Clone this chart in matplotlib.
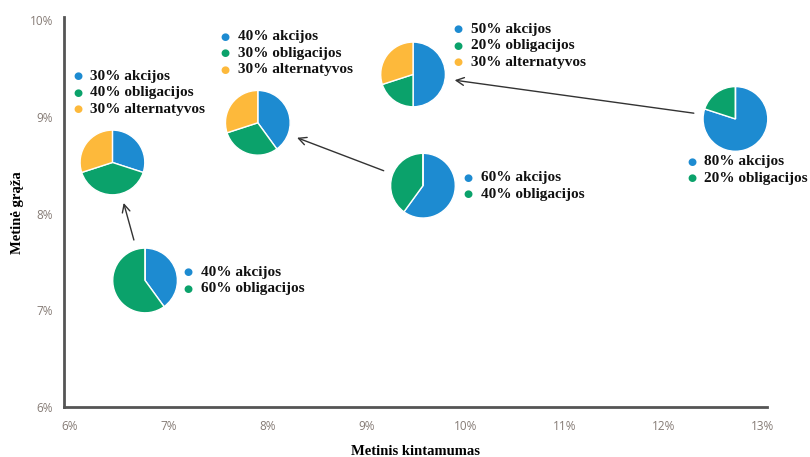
import matplotlib.pyplot as plt
from matplotlib.ticker import FuncFormatter

# portfeliai: metinis kintamumas (%), metinė grąža (%) ir sudėtis (%)
kintamumas = [6.76, 6.43, 7.90, 9.47, 9.57, 12.73]
graza = [7.31, 8.53, 8.94, 9.44, 8.29, 8.98]
akcijos = [40, 30, 40, 50, 60, 80]
obligacijos = [60, 40, 30, 20, 40, 20]
alternatyvos = [0, 30, 30, 30, 0, 0]
pavadinimai = ['akcijos', 'obligacijos', 'alternatyvos']
spalvos = ['#1d8bd1', '#0ba26b', '#fdb93b']

# rodyklės: (nuo portfelio, iki portfelio)
rodykles = [(0, 1), (4, 2), (5, 3)]

# užrašų vieta pikseliais nuo skritulio centro (taškas, pirma eilutė)
uzrasu_vieta = [(43, 8), (-35, 86), (-33, 86), (45, 45), (45, 8), (-44, -43)]

DPI = 100
px = 72 / DPI  # pikseliai -> taškai

fig = plt.figure(figsize=(8.10, 4.57), dpi=DPI)
ax = fig.add_axes([0.079, 0.109, 0.868, 0.853])
ax.set_xlim(5.94, 13.05)
ax.set_ylim(6.0, 10.03)

ax.set_xticks(range(6, 14))
ax.set_yticks(range(6, 11))
fmt = FuncFormatter(lambda v, p: '%d%%' % v)
ax.xaxis.set_major_formatter(fmt)
ax.yaxis.set_major_formatter(fmt)
ax.tick_params(length=0, labelsize=8.5, labelcolor='#857b75')
ax.tick_params(axis='x', pad=9)
ax.tick_params(axis='y', pad=8)
for l in ax.get_xticklabels() + ax.get_yticklabels():
    l.set_family('Open Sans')

for s in ['top', 'right']:
    ax.spines[s].set_visible(False)
for s in ['left', 'bottom']:
    ax.spines[s].set_color('#555555')
    ax.spines[s].set_linewidth(2)

ax.set_xlabel('Metinis kintamumas', family='Liberation Serif', weight='bold',
              fontsize=10.5, labelpad=9)
ax.set_ylabel('Metinė grąža', family='Liberation Serif', weight='bold',
              fontsize=10.5, labelpad=4)

# skrituliai atskirose ašyse
fig.canvas.draw()
sx = ax.transData.transform((1, 0))[0] - ax.transData.transform((0, 0))[0]
sy = ax.transData.transform((0, 1))[1] - ax.transData.transform((0, 0))[1]
r = 33
for i in range(len(kintamumas)):
    w = 2 * r / sx
    h = 2 * r / sy
    ins = ax.inset_axes([kintamumas[i] - w / 2, graza[i] - h / 2, w, h],
                        transform=ax.transData)
    dalys = [akcijos[i], obligacijos[i], alternatyvos[i]]
    ins.pie(dalys, colors=spalvos, startangle=90, counterclock=False,
            wedgeprops=dict(edgecolor='white', linewidth=1))
    ins.set_xlim(-1.02, 1.02)
    ins.set_ylim(-1.02, 1.02)
    ins.set_aspect('equal')
    ins.axis('off')

    # užrašai šalia skritulio
    dx, dy = uzrasu_vieta[i]
    eil = 0
    for d, pav, sp in zip(dalys, pavadinimai, spalvos):
        if d == 0:
            continue
        yy = (dy - eil * 16.5) * px
        ax.annotate('●', xy=(kintamumas[i], graza[i]),
                    xytext=(dx * px, yy), textcoords='offset points',
                    ha='center', va='center', fontsize=7.5, color=sp,
                    family='DejaVu Sans')
        ax.annotate('%d%% %s' % (d, pav), xy=(kintamumas[i], graza[i]),
                    xytext=((dx + 13) * px, yy), textcoords='offset points',
                    ha='left', va='center', fontsize=11, weight='bold',
                    family='Liberation Serif', color='#111111')
        eil += 1

for a, b in rodykles:
    ax.annotate('', xy=(kintamumas[b], graza[b]),
                xytext=(kintamumas[a], graza[a]),
                arrowprops=dict(arrowstyle='->', color='#333333', lw=1,
                                shrinkA=42 * px, shrinkB=42 * px,
                                mutation_scale=14))

fig.savefig('out.png', dpi=DPI)
